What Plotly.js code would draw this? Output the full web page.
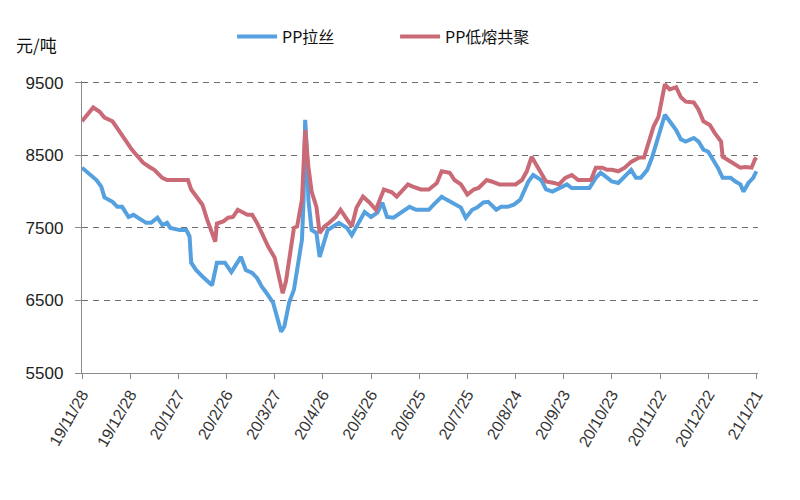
<!DOCTYPE html>
<html>
<head>
<meta charset="utf-8">
<script src="https://cdn.plot.ly/plotly-3.0.1.min.js"></script>
<style>html,body{margin:0;padding:0;background:#fff;}#chart{width:800px;height:500px;}</style>
</head>
<body>
<div id="chart"></div>
<script>
// PP拉丝 (drawn/raffia grade), 元/吨
const lasiDates = ["2019-11-28","2019-12-03","2019-12-07","2019-12-10","2019-12-12","2019-12-17","2019-12-20","2019-12-23","2019-12-25","2019-12-27","2019-12-30","2020-01-02","2020-01-07","2020-01-10","2020-01-14","2020-01-17","2020-01-20","2020-01-22","2020-01-28","2020-02-01","2020-02-03","2020-02-04","2020-02-07","2020-02-11","2020-02-16","2020-02-17","2020-02-20","2020-02-25","2020-02-29","2020-03-03","2020-03-06","2020-03-09","2020-03-13","2020-03-16","2020-03-19","2020-03-22","2020-03-26","2020-03-29","2020-03-31","2020-04-02","2020-04-05","2020-04-08","2020-04-10","2020-04-13","2020-04-14","2020-04-15","2020-04-16","2020-04-17","2020-04-19","2020-04-22","2020-04-24","2020-04-27","2020-04-29","2020-05-06","2020-05-11","2020-05-14","2020-05-19","2020-05-22","2020-05-26","2020-05-30","2020-06-02","2020-06-05","2020-06-09","2020-06-14","2020-06-19","2020-06-23","2020-07-01","2020-07-04","2020-07-09","2020-07-12","2020-07-17","2020-07-21","2020-07-24","2020-07-28","2020-07-31","2020-08-04","2020-08-07","2020-08-12","2020-08-15","2020-08-19","2020-08-23","2020-08-27","2020-09-01","2020-09-04","2020-09-09","2020-09-12","2020-09-16","2020-09-20","2020-09-25","2020-09-28","2020-10-02","2020-10-09","2020-10-13","2020-10-16","2020-10-19","2020-10-23","2020-10-27","2020-10-31","2020-11-04","2020-11-07","2020-11-10","2020-11-14","2020-11-17","2020-11-20","2020-11-23","2020-11-25","2020-11-28","2020-12-02","2020-12-05","2020-12-08","2020-12-13","2020-12-16","2020-12-19","2020-12-22","2020-12-25","2020-12-28","2020-12-31","2021-01-05","2021-01-08","2021-01-11","2021-01-13","2021-01-16","2021-01-19","2021-01-21"];
const lasiValues = [8330,8230,8160,8070,7920,7860,7790,7790,7720,7650,7680,7640,7570,7570,7640,7540,7570,7500,7470,7470,7380,7020,6920,6830,6740,6710,7020,7020,6890,6990,7100,6920,6880,6810,6690,6600,6470,6230,6070,6140,6470,6650,6960,7340,7890,8990,8580,7890,7470,7430,7100,7340,7470,7570,7500,7400,7610,7720,7650,7710,7850,7650,7640,7710,7790,7750,7750,7820,7930,7890,7820,7780,7640,7750,7780,7850,7860,7750,7790,7790,7820,7890,8140,8230,8160,8030,8000,8050,8100,8050,8050,8050,8190,8260,8210,8140,8120,8210,8300,8190,8190,8300,8470,8690,8900,9060,8970,8850,8720,8690,8740,8690,8580,8550,8440,8330,8190,8190,8140,8100,8000,8120,8190,8280];

// PP低熔共聚 (low-melt copolymer), 元/吨
const gongjuDates = ["2019-11-28","2019-12-02","2019-12-05","2019-12-09","2019-12-12","2019-12-17","2019-12-20","2019-12-23","2019-12-26","2019-12-29","2020-01-01","2020-01-05","2020-01-09","2020-01-12","2020-01-17","2020-01-20","2020-01-28","2020-02-02","2020-02-04","2020-02-07","2020-02-11","2020-02-14","2020-02-17","2020-02-19","2020-02-20","2020-02-24","2020-02-27","2020-03-01","2020-03-04","2020-03-07","2020-03-10","2020-03-13","2020-03-16","2020-03-19","2020-03-23","2020-03-27","2020-03-30","2020-04-01","2020-04-03","2020-04-06","2020-04-08","2020-04-10","2020-04-13","2020-04-15","2020-04-17","2020-04-19","2020-04-22","2020-04-24","2020-04-27","2020-04-30","2020-05-04","2020-05-07","2020-05-11","2020-05-14","2020-05-17","2020-05-21","2020-05-25","2020-05-29","2020-06-03","2020-06-08","2020-06-11","2020-06-18","2020-06-21","2020-06-26","2020-07-01","2020-07-06","2020-07-09","2020-07-14","2020-07-17","2020-07-21","2020-07-25","2020-07-29","2020-08-01","2020-08-06","2020-08-09","2020-08-14","2020-08-19","2020-08-24","2020-08-28","2020-08-31","2020-09-03","2020-09-06","2020-09-09","2020-09-12","2020-09-17","2020-09-20","2020-09-24","2020-09-28","2020-10-02","2020-10-10","2020-10-13","2020-10-17","2020-10-20","2020-10-23","2020-10-27","2020-10-31","2020-11-04","2020-11-09","2020-11-12","2020-11-15","2020-11-18","2020-11-21","2020-11-24","2020-11-25","2020-11-28","2020-12-02","2020-12-05","2020-12-08","2020-12-13","2020-12-16","2020-12-19","2020-12-23","2020-12-26","2020-12-30","2020-12-31","2021-01-03","2021-01-08","2021-01-11","2021-01-14","2021-01-18","2021-01-20","2021-01-21"];
const gongjuValues = [8970,9090,9160,9100,9020,8970,8880,8790,8680,8580,8510,8400,8340,8300,8190,8160,8160,8160,8030,7930,7820,7610,7430,7310,7560,7590,7640,7650,7750,7710,7680,7680,7570,7430,7240,7090,6780,6600,6760,7240,7500,7520,7890,8850,8340,8000,7790,7430,7520,7570,7650,7750,7610,7520,7780,7930,7850,7750,8030,7990,7930,8100,8070,8030,8030,8120,8280,8260,8160,8100,7960,8030,8050,8160,8140,8100,8100,8100,8160,8280,8480,8370,8260,8140,8120,8100,8190,8230,8160,8160,8330,8330,8300,8300,8280,8330,8410,8470,8470,8690,8900,9030,9340,9480,9410,9440,9300,9240,9230,9130,8970,8920,8810,8690,8480,8440,8370,8330,8340,8330,8440,8470];

const seriesNames = ["PP拉丝", "PP低熔共聚"];
const xTickVals = ["2019-11-28","2019-12-28","2020-01-27","2020-02-26","2020-03-27","2020-04-26","2020-05-26","2020-06-25","2020-07-25","2020-08-24","2020-09-23","2020-10-23","2020-11-22","2020-12-22","2021-01-21"];
const xTickText = ["19/11/28","19/12/28","20/1/27","20/2/26","20/3/27","20/4/26","20/5/26","20/6/25","20/7/25","20/8/24","20/9/23","20/10/23","20/11/22","20/12/22","21/1/21"];
const yTickVals = [5500, 6500, 7500, 8500, 9500];
const unitLabel = "元/吨";

const traces = [
  {x: lasiDates, y: lasiValues, name: seriesNames[0], type: "scatter", mode: "lines",
   line: {color: "#55A0DE", width: 4}},
  {x: gongjuDates, y: gongjuValues, name: seriesNames[1], type: "scatter", mode: "lines",
   line: {color: "#C96A76", width: 4}}
];

const layout = {
  width: 800, height: 500,
  margin: {l: 82, r: 42, t: 81, b: 127},
  paper_bgcolor: "#fff", plot_bgcolor: "#fff",
  font: {family: "Liberation Sans, Arial, sans-serif", color: "#222"},
  showlegend: true,
  legend: {orientation: "h", x: 0.222, y: 1.152, xanchor: "left", yanchor: "middle",
    font: {family: "Noto Sans CJK SC", size: 16, color: "#111"},
    entrywidth: 108, entrywidthmode: "pixels", itemwidth: 40, bgcolor: "rgba(0,0,0,0)"},
  xaxis: {type: "date", range: ["2019-11-28", "2021-01-22"],
    tickvals: xTickVals, ticktext: xTickText, tickangle: -60,
    tickfont: {size: 16, color: "#333"},
    showgrid: false, zeroline: false,
    showline: true, linecolor: "#8a8a8a", linewidth: 1.2,
    ticks: "outside", ticklen: 5, tickcolor: "#8a8a8a"},
  yaxis: {range: [5500, 9525], tickvals: yTickVals,
    tickfont: {size: 17, color: "#222"},
    showgrid: true, gridcolor: "#6e6e6e", gridwidth: 1, griddash: "6px,5px",
    zeroline: false, showline: true, linecolor: "#8a8a8a", linewidth: 1.2,
    ticks: "outside", ticklen: 6, tickcolor: "#8a8a8a", ticklabelstandoff: 8},
  annotations: [{text: unitLabel, xref: "paper", yref: "paper", x: -0.10, y: 1.125,
    xanchor: "left", yanchor: "middle", showarrow: false,
    font: {family: "Noto Sans CJK SC", size: 17, color: "#111"}}]
};

Plotly.newPlot("chart", traces, layout, {displayModeBar: false, staticPlot: true});
</script>
</body>
</html>
